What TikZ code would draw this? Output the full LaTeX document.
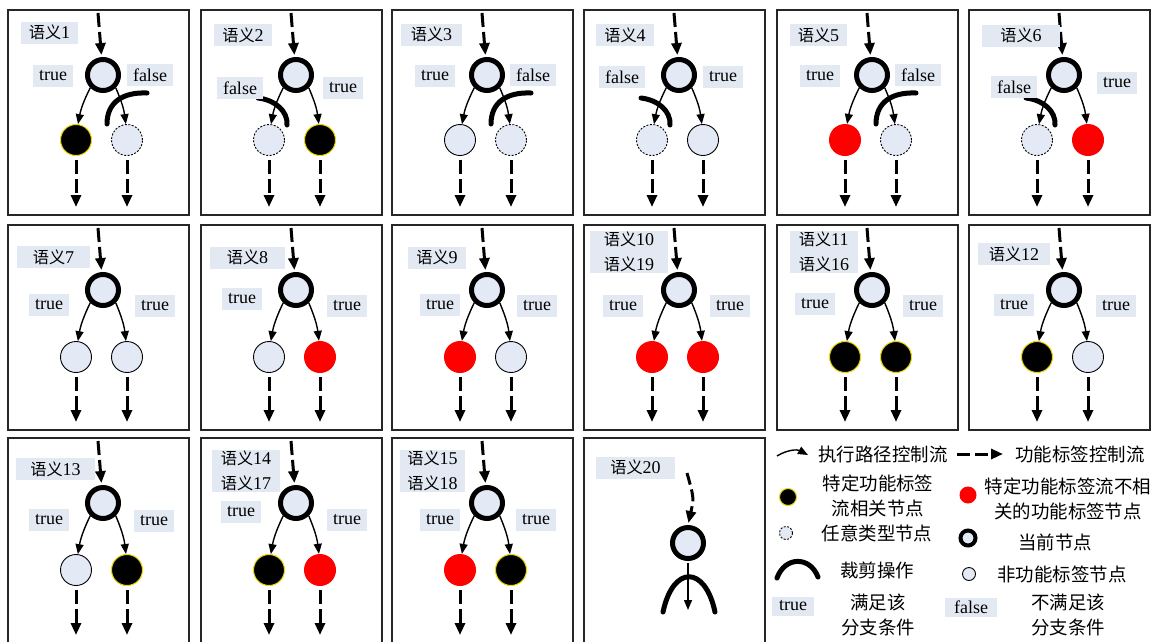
\documentclass[tikz,border=0pt]{standalone}
\usepackage{fontspec}
\setmainfont{Liberation Serif}
\newfontfamily\cjk[Scale=0.9]{Noto Sans CJK SC}
\usetikzlibrary{arrows.meta}
\definecolor{lb}{RGB}{227,233,243}
\definecolor{nb}{RGB}{228,234,245}
\definecolor{yel}{RGB}{235,215,0}
\newcommand\yy{{\cjk 语义}}
\tikzset{
 panel/.style={draw=black!85,line width=1.2pt},
 cur/.style={circle,draw,line width=5pt,fill=nb,minimum size=31pt,inner sep=0pt},
 lt/.style={circle,draw,line width=0.9pt,fill=nb,minimum size=31pt,inner sep=0pt},
 dl/.style={lt,dash pattern=on 2pt off 1.5pt},
 bk/.style={circle,draw=yel,line width=1pt,fill=black,minimum size=31pt,inner sep=0pt},
 rd/.style={circle,fill=red,minimum size=32pt,inner sep=0pt},
 ctrl/.style={line width=3pt,dash pattern=on 14pt off 5pt,-{Triangle[length=12pt,width=10pt]}},
 flow/.style={line width=1.4pt,-{Triangle[length=10pt,width=8pt]}},
 prune/.style={line width=5pt,line cap=round},
 btag/.style={fill=lb,inner xsep=6pt,inner ysep=0pt,minimum height=22pt,font=\fontsize{18}{20}\selectfont},
 ptitle/.style={btag,inner xsep=4pt},
 ptitletwo/.style={ptitle,align=left,font=\fontsize{18}{25}\selectfont,minimum height=42pt},
 leg/.style={font=\fontsize{20.5}{25}\selectfont\cjk,align=center,inner sep=0pt},
}
% #1 prefix, #2 left child style, #3 right child style, #4 child y
\newcommand\tree[4]{%
 \draw[panel] (0,0) rectangle (181,205);
 \node[cur] (#1c) at (95,65) {};
 \node[#2] (#1l) at (68,#4) {};
 \node[#3] (#1r) at (119,#4) {};
 \coordinate (#1i) at (90,3);
 \coordinate (#1lo) at (68,197);
 \coordinate (#1ro) at (119,197);
 \draw[ctrl,shorten >=2pt] (#1i) -- (#1c);
 \draw[flow] (#1c.south west) to[bend right=8] (#1l);
 \draw[flow] (#1c.south east) to[bend left=8] (#1r);
 \draw[ctrl,shorten <=4pt] (#1l) -- (#1lo);
 \draw[ctrl,shorten <=4pt] (#1r) -- (#1ro);
}
\newcommand\pruneR{\draw[prune] (139,83) .. controls (115,82) and (99,92) .. (99,114);}
\newcommand\pruneL{\draw[prune] (57,88) .. controls (74,90) and (87,101) .. (86,115);}
\begin{document}
\begin{tikzpicture}[x=1pt,y=-1pt]
\useasboundingbox (0,0) rectangle (1156,641);
\fill[white] (0,0) rectangle (1156,641);
% row 1
\begin{scope}[shift={(8,10)}]\tree{a}{bk}{dl}{130}\pruneR\end{scope}
\begin{scope}[shift={(201,10)}]\tree{b}{dl}{bk}{130}\pruneL\end{scope}
\begin{scope}[shift={(392,10)}]\tree{c}{lt}{dl}{130}\pruneR\end{scope}
\begin{scope}[shift={(584,10)}]\tree{d}{dl}{lt}{130}\pruneL\end{scope}
\begin{scope}[shift={(777,10)}]\tree{e}{rd}{dl}{130}\pruneR\end{scope}
\begin{scope}[shift={(969,10)}]\tree{f}{dl}{rd}{130}\pruneL\end{scope}
% row 2
\begin{scope}[shift={(8,225)}]\tree{g}{lt}{lt}{132}\end{scope}
\begin{scope}[shift={(201,225)}]\tree{h}{lt}{rd}{132}\end{scope}
\begin{scope}[shift={(392,225)}]\tree{i}{rd}{lt}{132}\end{scope}
\begin{scope}[shift={(584,225)}]\tree{j}{rd}{rd}{132}\end{scope}
\begin{scope}[shift={(777,225)}]\tree{k}{bk}{bk}{132}\end{scope}
\begin{scope}[shift={(969,225)}]\tree{l}{bk}{lt}{132}\end{scope}
% row 3
\begin{scope}[shift={(8,438)}]\tree{m}{lt}{bk}{132}\end{scope}
\begin{scope}[shift={(201,438)}]\tree{n}{bk}{rd}{132}\end{scope}
\begin{scope}[shift={(392,438)}]\tree{o}{rd}{bk}{132}\end{scope}
\begin{scope}[shift={(584,438)}]
 \draw[panel] (0,0) rectangle (181,205);
 \node[cur] (zc) at (104,105) {};
 \coordinate (zi) at (103,35);
 \coordinate (zo) at (104,172);
 \draw[ctrl,dash pattern=on 12pt off 5pt,shorten >=2pt] (zi) .. controls (110,60) .. (zc.north);
 \draw[flow,shorten <=2pt] (zc) -- (zo);
 \draw[prune] (79,174) .. controls (89,127) and (121,127) .. (131,174);
\end{scope}
% titles
\node[ptitle,minimum width=57pt] (ta) at (49.5,32.5) {\yy1};
\node[ptitle,minimum width=58pt] (tb) at (243,35) {\yy2};
\node[ptitle,minimum width=61pt] (tc) at (431.5,34.5) {\yy3};
\node[ptitle,minimum width=58pt] (td) at (625,35) {\yy4};
\node[ptitle,minimum width=57pt] (te) at (818.5,35) {\yy5};
\node[ptitle,minimum width=78pt] (tf) at (1021,35.5) {\yy6};
\node[ptitle,minimum width=73pt] (tg) at (53.5,257) {\yy7};
\node[ptitle,minimum width=75pt] (th) at (247.5,257.5) {\yy8};
\node[ptitle,minimum width=58pt] (ti) at (437,257.5) {\yy9};
\node[ptitletwo,minimum width=78pt] (tj) at (629,252) {\yy10\\\yy19};
\node[ptitletwo,minimum width=68pt] (tk) at (824,252) {\yy11\\\yy16};
\node[ptitle,minimum width=72pt] (tl) at (1014,254) {\yy12};
\node[ptitle,minimum width=79pt] (tm) at (55.5,469) {\yy13};
\node[ptitletwo,minimum width=68pt] (tn) at (246,471) {\yy14\\\yy17};
\node[ptitletwo,minimum width=65pt] (to) at (432.5,471) {\yy15\\\yy18};
\node[ptitle,minimum width=79pt] (tz) at (635.5,467.5) {\yy20};
% branch labels
\node[btag] (a1) at (53,76) {true};   \node[btag] (a2) at (150,75) {false};
\node[btag] (b1) at (240,88) {false}; \node[btag] (b2) at (343,88) {true};
\node[btag] (c1) at (435,76) {true};  \node[btag] (c2) at (533,75) {false};
\node[btag] (d1) at (622,77) {false}; \node[btag] (d2) at (723,77) {true};
\node[btag] (e1) at (820,76) {true};  \node[btag] (e2) at (918,75) {false};
\node[btag] (f1) at (1014,87) {false};\node[btag] (f2) at (1117,83) {true};
\node[btag] (g1) at (49,305) {true};  \node[btag] (g2) at (155,306) {true};
\node[btag] (h1) at (242,299) {true}; \node[btag] (h2) at (347,306) {true};
\node[btag] (i1) at (440,305) {true}; \node[btag] (i2) at (537,306) {true};
\node[btag] (j1) at (623,306) {true}; \node[btag] (j2) at (730,306) {true};
\node[btag] (k1) at (815,304) {true}; \node[btag] (k2) at (923,306) {true};
\node[btag] (l1) at (1014,305) {true};\node[btag] (l2) at (1116,306) {true};
\node[btag] (m1) at (49,520) {true};  \node[btag] (m2) at (154,521) {true};
\node[btag] (n1) at (241,512) {true}; \node[btag] (n2) at (347,520) {true};
\node[btag] (o1) at (440,520) {true}; \node[btag] (o2) at (536,520) {true};
% legend
\coordinate (lf1) at (777,456); \coordinate (lf2) at (808,455);
\draw[flow] (lf1) to[bend left=30] (lf2);
\node[leg] (lt1) at (883,454) {执行路径控制流};
\coordinate (ld1) at (957,454); \coordinate (ld2) at (1003,454);
\draw[ctrl,dash pattern=on 13pt off 5pt] (ld1) -- (ld2);
\node[leg] (lt2) at (1080,454) {功能标签控制流};
\node[bk,minimum size=17pt] (lbk) at (788,497) {};
\node[leg] (lt3) at (878,495.5) {特定功能标签\\流相关节点};
\node[rd,minimum size=17pt] (lrd) at (968,495) {};
\node[leg] (lt4) at (1068,498.5) {特定功能标签流不相\\关的功能标签节点};
\node[dl,minimum size=13pt] (ldl) at (786,533) {};
\node[leg] (lt5) at (877,533) {任意类型节点};
\node[cur,minimum size=15pt,line width=4pt] (lcur) at (968,538) {};
\node[leg] (lt6) at (1055,542) {当前节点};
\draw[prune] (777,578) .. controls (785,556) and (810,556) .. (818,577);
\node[leg] (lt7) at (877,570) {裁剪操作};
\node[lt,minimum size=13pt] (llt) at (969,574) {};
\node[leg] (lt8) at (1062,574) {非功能标签节点};
\node[btag,minimum height=19pt,inner xsep=7pt] (ltr) at (793,606) {true};
\node[leg] (lt9) at (878,615) {满足该\\分支条件};
\node[btag,minimum height=19pt,inner xsep=9pt] (lfa) at (971,607) {false};
\node[leg] (lt10) at (1068,615) {不满足该\\分支条件};
\end{tikzpicture}
\end{document}
